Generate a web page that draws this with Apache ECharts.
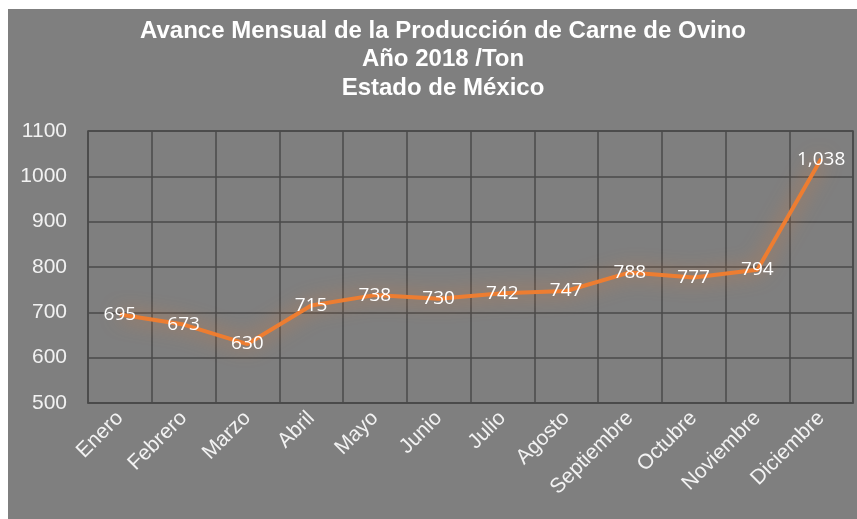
<!DOCTYPE html>
<html>
<head>
<meta charset="utf-8">
<script src="https://cdn.jsdelivr.net/npm/echarts@6/dist/echarts.min.js"></script>
<style>
html,body{margin:0;padding:0;background:#ffffff;width:857px;height:519px;overflow:hidden;}
#chart{position:absolute;left:8px;top:9px;width:849px;height:510px;background:#7f7f7f;}
</style>
</head>
<body>
<div id="chart"></div>
<script>
const titleText = "Avance Mensual de la Producción de Carne de Ovino\nAño 2018 /Ton\nEstado de México";
const categories = ["Enero","Febrero","Marzo","Abril","Mayo","Junio","Julio","Agosto","Septiembre","Octubre","Noviembre","Diciembre"];
const values = [695, 673, 630, 715, 738, 730, 742, 747, 788, 777, 794, 1038];
const yMin = 500, yMax = 1100, yStep = 100;

const chart = echarts.init(document.getElementById('chart'), null, {renderer:'canvas'});
chart.setOption({
  animation: false,
  backgroundColor: '#7f7f7f',
  title: {
    text: titleText,
    left: 430,
    textAlign: 'center',
    top: 3,
    textStyle: {
      color: '#ffffff',
      fontFamily: 'Liberation Sans, Arial, sans-serif',
      fontWeight: 'bold',
      fontSize: 24,
      lineHeight: 28.5
    }
  },
  grid: {
    left: 80, right: 4, top: 122, bottom: 116,
    show: true, borderColor: '#4a4a4a', borderWidth: 1.5
  },
  xAxis: {
    type: 'category',
    data: categories,
    boundaryGap: true,
    axisLine: {show: true, lineStyle: {color: '#4a4a4a', width: 1.5}},
    axisTick: {show: false},
    splitLine: {show: true, lineStyle: {color: '#4a4a4a', width: 1.5}},
    axisLabel: {
      rotate: 45,
      margin: 12,
      color: '#f2f2f2',
      fontFamily: 'Liberation Sans, Arial, sans-serif',
      fontSize: 21,
      interval: 0
    }
  },
  yAxis: {
    type: 'value',
    min: yMin, max: yMax, interval: yStep,
    axisLine: {show: false},
    axisTick: {show: false},
    splitLine: {show: true, lineStyle: {color: '#4a4a4a', width: 1.5}},
    axisLabel: {
      margin: 21,
      color: '#f2f2f2',
      fontFamily: 'Liberation Sans, Arial, sans-serif',
      fontSize: 21,
      formatter: v => String(v)
    }
  },
  series: [{
    type: 'line',
    data: values,
    symbol: 'circle',
    symbolSize: 0,
    itemStyle: {color: '#ED7D31'},
    lineStyle: {
      color: '#ED7D31', width: 4,
      shadowColor: 'rgba(237,125,49,0.8)', shadowBlur: 20
    },
    label: {
      show: true,
      position: 'inside',
      color: '#ffffff',
      fontFamily: 'Open Sans, sans-serif',
      fontSize: 19,
      formatter: p => p.value.toLocaleString('en-US')
    }
  }]
});
</script>
</body>
</html>
